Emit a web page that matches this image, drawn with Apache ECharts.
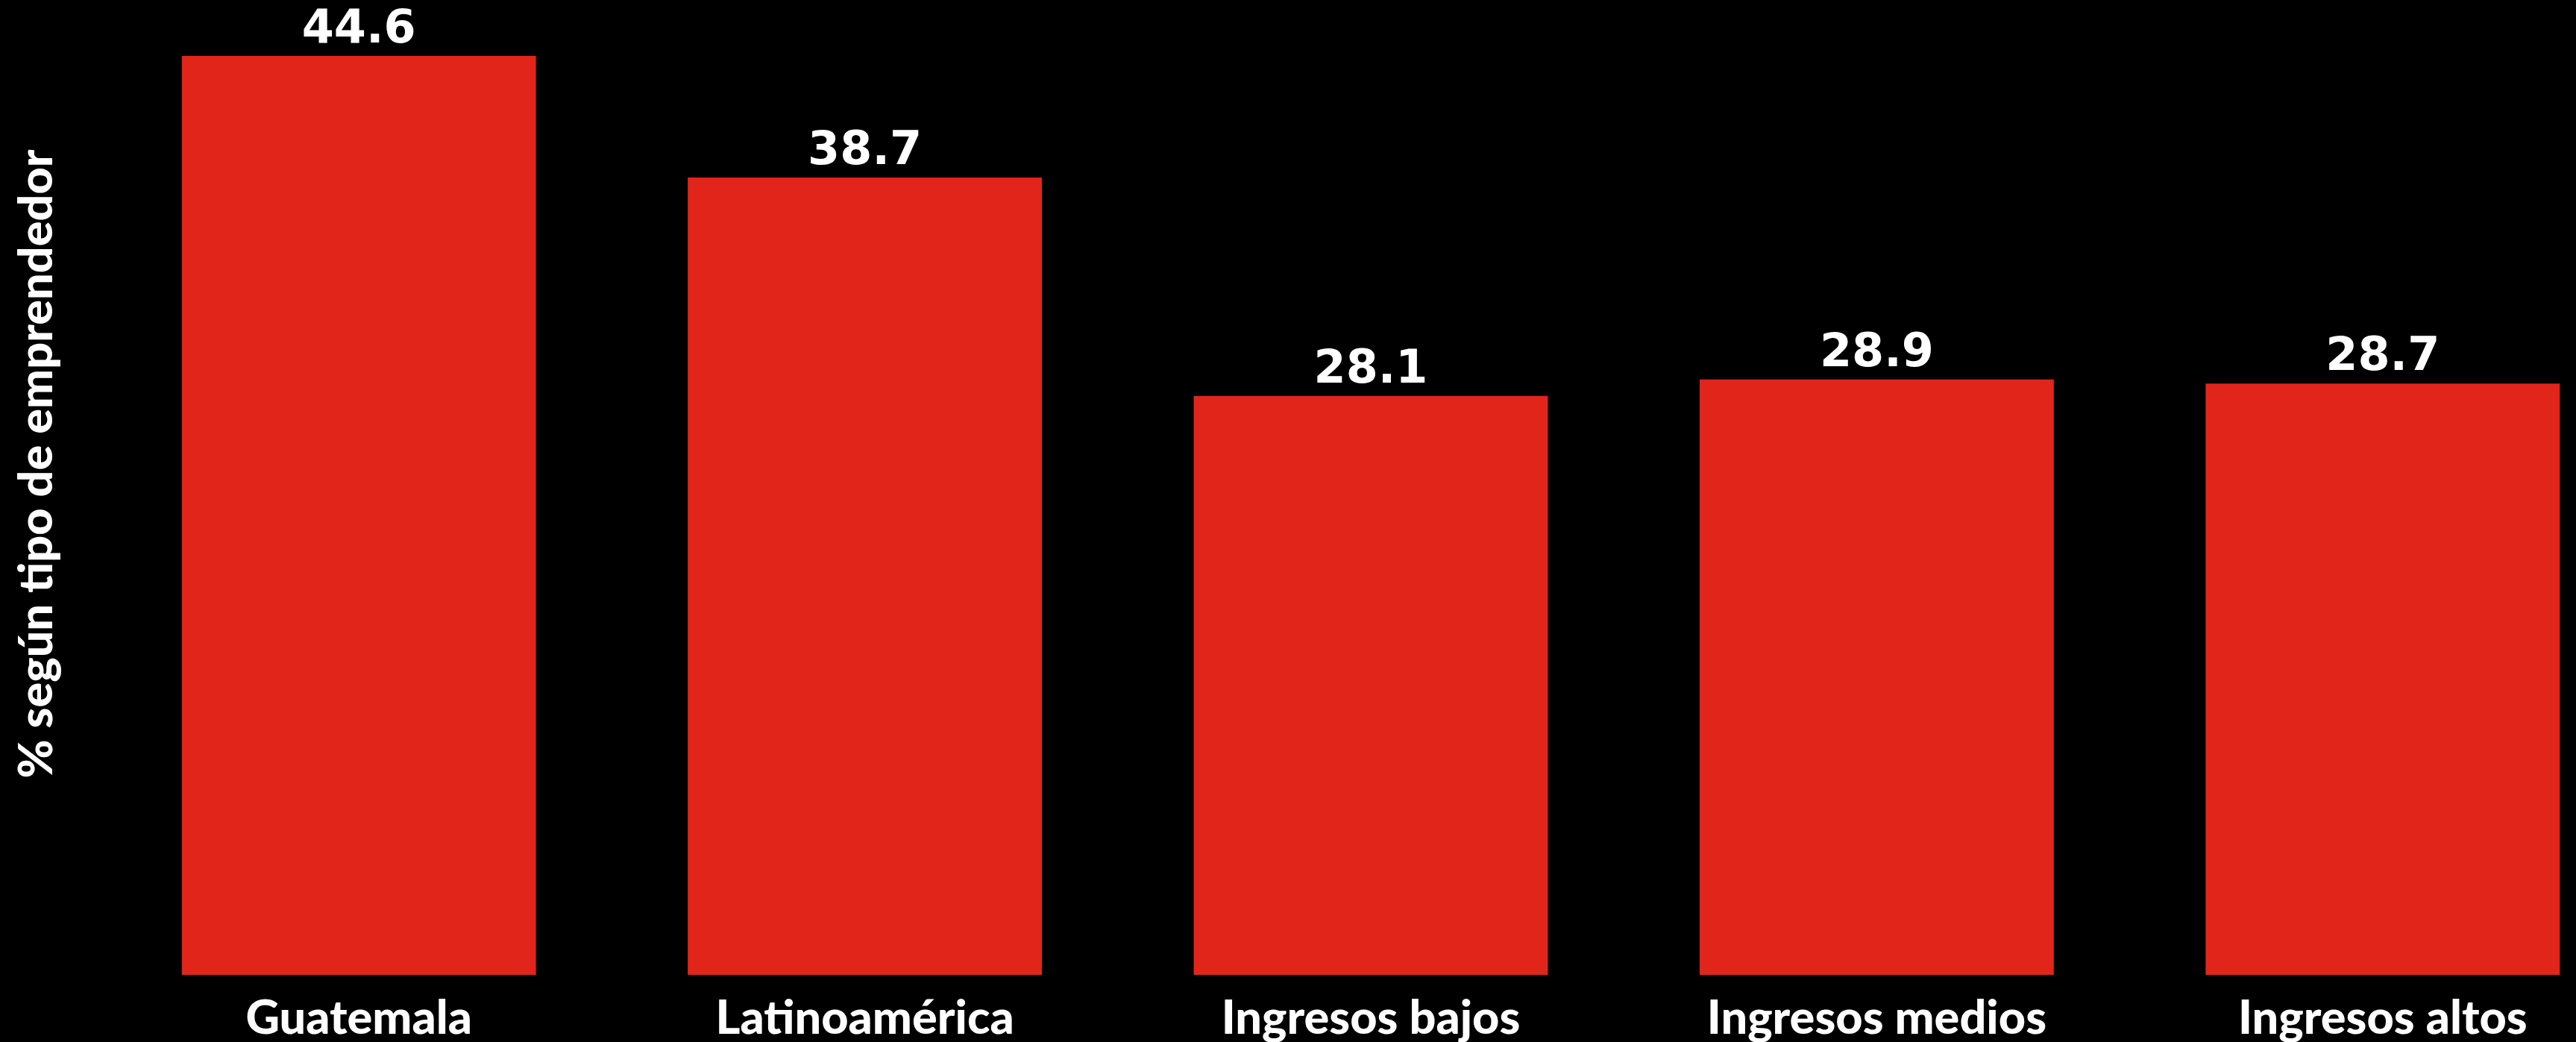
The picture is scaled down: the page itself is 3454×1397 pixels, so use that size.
<!DOCTYPE html>
<html><head><meta charset="utf-8">
<script src="https://cdn.jsdelivr.net/npm/echarts@6/dist/echarts.min.js"></script>
<style>html,body{margin:0;padding:0;background:#000;overflow:hidden;}#c{width:3534px;height:1397px;}</style>
</head><body><div id="c"></div>
<script>
const categories = ['Guatemala', 'Latinoamérica', 'Ingresos bajos', 'Ingresos medios', 'Ingresos altos'];
const values = [44.6, 38.7, 28.1, 28.9, 28.7];
const yTitle = '% según tipo de emprendedor';

const chart = echarts.init(document.getElementById('c'));
chart.setOption({
  backgroundColor: '#000000',
  animation: false,
  grid: { left: 142, right: 0, top: 64, bottom: 88.5, containLabel: false },
  xAxis: {
    type: 'category', data: categories,
    axisLine: { show: false }, axisTick: { show: false },
    axisLabel: { color: '#ffffff', fontFamily: 'Lato', fontWeight: 900, fontSize: 63, margin: 27, interval: 0 }
  },
  yAxis: {
    type: 'value', min: 0, max: 45, show: false
  },
  graphic: [{
    type: 'text', x: 50, y: 622, rotation: Math.PI / 2,
    style: { text: yTitle, fill: '#ffffff', font: '900 63px Lato', textAlign: 'center', textVerticalAlign: 'middle' }
  }],
  series: [{
    type: 'bar', data: values, barWidth: '70%',
    itemStyle: { color: '#e1251b' },
    label: { show: true, position: 'top', distance: 3, color: '#ffffff', fontFamily: 'DejaVu Sans', fontWeight: 'bold', fontSize: 62,
      formatter: p => p.value.toFixed(1) }
  }]
});
</script></body></html>
